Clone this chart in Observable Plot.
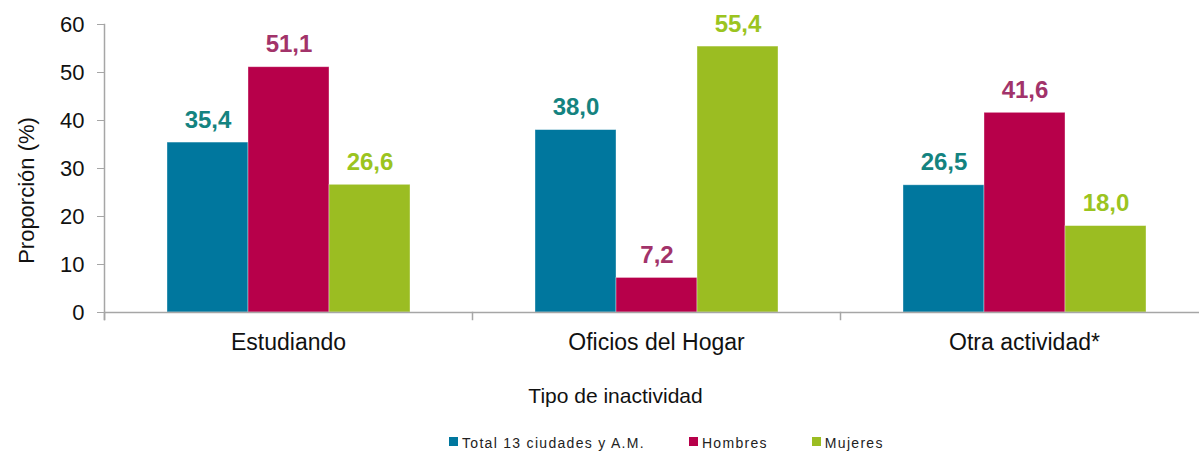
<!DOCTYPE html>
<html>
<head>
<meta charset="utf-8">
<script src="https://cdn.jsdelivr.net/npm/d3@7"></script>
<script src="https://cdn.jsdelivr.net/npm/@observablehq/plot@0.6"></script>
<style>
  html, body { margin: 0; padding: 0; background: #fff; }
  body { width: 1199px; height: 451px; overflow: hidden; font-family: "Liberation Sans", Arial, sans-serif; }
  #legend { height: 26px; display: flex; align-items: flex-start; padding-left: 449px; padding-top: 10px; box-sizing: border-box; font-size: 14px; line-height: 16px; letter-spacing: 1.3px; color: #222; }
  .item { display: flex; align-items: center; margin-right: 44px; }
  .sw { width: 9px; height: 9px; margin-right: 4px; margin-top: -3px; }
</style>
</head>
<body>
<div id="chart"></div>
<div id="legend"></div>
<script>
const categories = ["Estudiando", "Oficios del Hogar", "Otra actividad*"];
const series = ["Total 13 ciudades y A.M.", "Hombres", "Mujeres"];
const totalValues = [35.4, 38.0, 26.5];
const hombresValues = [51.1, 7.2, 41.6];
const mujeresValues = [26.6, 55.4, 18.0];
const yTicks = [0, 10, 20, 30, 40, 50, 60];
const barColors = ["#00779E", "#B7004A", "#9BBD22"];
const labelColors = ["#148380", "#A2336A", "#9BC41F"];
const xTitle = "Tipo de inactividad";
const yTitle = "Proporción (%)";

const seriesValues = [totalValues, hombresValues, mujeresValues];
const rows = categories.flatMap((c, i) => series.map((s, j) => ({category: c, series: s, value: seriesValues[j][i]})));
const fmt = v => v.toFixed(1).replace(".", ",");
const axisGray = "#A6A6A6";

const labelMarks = series.map((s, j) => Plot.text(rows.filter(d => d.series === s), {
  fx: "category", x: "series", y: "value", text: d => fmt(d.value),
  fill: labelColors[j], fontSize: 24, fontWeight: "bold", lineAnchor: "bottom", dy: -15
}));

const chart = Plot.plot({
  width: 1199,
  height: 425,
  marginLeft: 104,
  marginRight: -9,
  marginTop: 24,
  marginBottom: 113,
  style: {fontFamily: "Liberation Sans, Arial, sans-serif", background: "#fff"},
  fx: {domain: categories, padding: 0, label: null},
  x: {domain: series, paddingInner: 0, paddingOuter: 0.744, axis: null},
  y: {domain: [0, 60], axis: null},
  color: {domain: series, range: barColors},
  marks: [
    Plot.barY(rows, {fx: "category", x: "series", y: "value", fill: "series", stroke: "#fff", strokeOpacity: 0.45, strokeWidth: 0.8}),
    ...labelMarks,
    Plot.ruleY([0], {stroke: axisGray, strokeWidth: 1.5}),
    Plot.frame({anchor: "left", facet: "super", stroke: axisGray, strokeWidth: 1.5, insetBottom: -7}),
    Plot.frame({anchor: "left", stroke: axisGray, strokeWidth: 1.5, insetTop: 288, insetBottom: -7}),
    Plot.axisY({ticks: yTicks, tickSize: 7, tickPadding: 13, fontSize: 22, stroke: axisGray, fill: "#111", label: null}),
    Plot.axisFx({anchor: "bottom", tickSize: 0, tickPadding: 21, fontSize: 23, fill: "#111", label: null}),
    Plot.text([xTitle], {text: d => d, frameAnchor: "bottom", facet: "super", textAnchor: "middle", fontSize: 21, fill: "#111", lineAnchor: "bottom", dy: 90, dx: -41}),
    Plot.text([yTitle], {text: d => d, frameAnchor: "left", facet: "super", textAnchor: "middle", lineAnchor: "middle", rotate: -90, fontSize: 22, fill: "#111", dx: -78, dy: 22})
  ]
});
document.getElementById("chart").appendChild(chart);

const legend = document.getElementById("legend");
series.forEach((s, j) => {
  const item = document.createElement("div");
  item.className = "item";
  const sw = document.createElement("span");
  sw.className = "sw";
  sw.style.background = barColors[j];
  const t = document.createElement("span");
  t.textContent = s;
  item.appendChild(sw);
  item.appendChild(t);
  legend.appendChild(item);
});
</script>
</body>
</html>
